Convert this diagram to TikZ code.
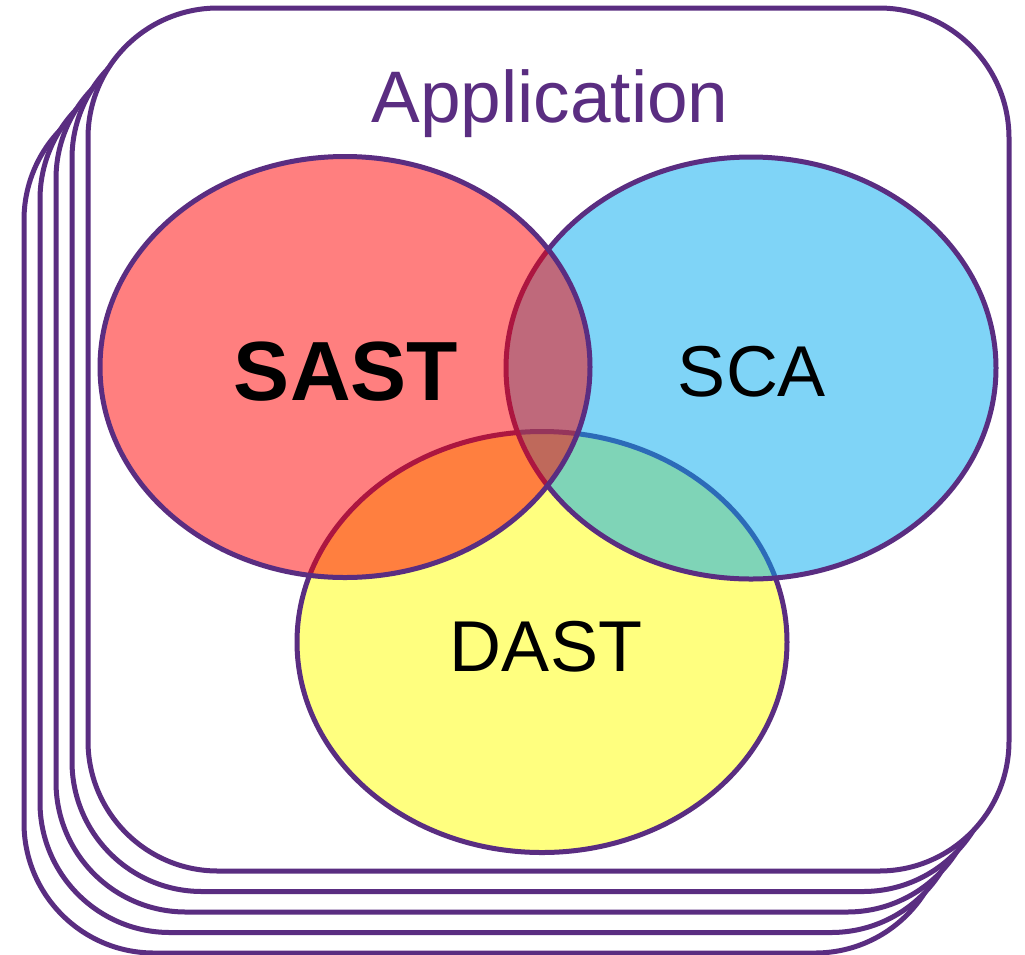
\documentclass[tikz,border=0pt]{standalone}
\usepackage{fontspec}
\setmainfont{Liberation Sans}
\definecolor{appPurple}{RGB}{90,45,129}
\definecolor{setRed}{RGB}{255,0,0}
\definecolor{setBlue}{RGB}{0,170,240}
\definecolor{setYellow}{RGB}{255,255,0}
\begin{document}
\begin{tikzpicture}[x=1pt,y=-1pt,
  appbox/.style={draw=appPurple,line width=5pt,fill=white,rounded corners=130pt},
  setshape/.style={draw=appPurple,line width=5pt,fill opacity=0.5},
  lbl/.style={anchor=base,inner sep=0pt,font=\fontsize{72}{80}\selectfont}]
\useasboundingbox (0,0) rectangle (1025,954);
% stacked application boxes, back to front
\foreach \k in {4,3,2,1,0}{
  \draw[appbox] (88-16*\k,8+20.5*\k) rectangle (1009-16*\k,871+20.5*\k);
}
\node[lbl,text=appPurple,font=\fontsize{73}{80}\selectfont] (app) at (550,122) {Application};
% sets: yellow, blue, red (red on top)
\draw[setshape,fill=setYellow] (542,642) ellipse [x radius=245,y radius=210.5];
\draw[setshape,fill=setBlue] (751,368) ellipse [x radius=245,y radius=211];
\draw[setshape,fill=setRed] (345,367) ellipse [x radius=245,y radius=210.5];
\node[lbl,font=\fontsize{84}{90}\selectfont\bfseries] (sast) at (346,400) {SAST};
\node[lbl] (sca) at (752,396) {SCA};
\node[lbl] (dast) at (546,671) {DAST};
\end{tikzpicture}
\end{document}
